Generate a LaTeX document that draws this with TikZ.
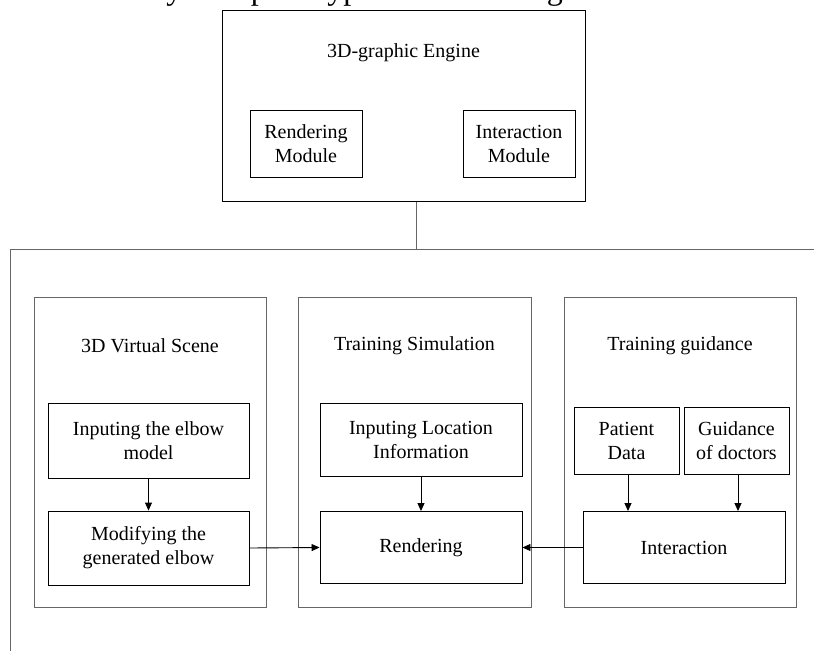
\documentclass[tikz,border=0pt]{standalone}
\usepackage{fontspec}
\setmainfont{Liberation Serif}
\usetikzlibrary{arrows.meta}
\begin{document}
\begin{tikzpicture}[x=1pt,y=-1pt,
  box/.style={draw=black,line width=0.9pt,align=center,inner sep=0pt,
    font=\fontsize{20}{24}\selectfont},
  panel/.style={draw=black!60,line width=1pt,inner sep=0pt},
  lbl/.style={font=\fontsize{20}{24}\selectfont,inner sep=0pt},
  link/.style={draw=black!60,line width=1pt},
  arr/.style={draw=black,line width=0.9pt,-{Triangle[length=8pt,width=7pt]}}]
\useasboundingbox (0,0) rectangle (814,651);
\begin{scope}
\clip (0,0) rectangle (814,651);
\node[anchor=south west,inner sep=0pt,font=\fontsize{32}{36}\selectfont] (caption) at (96,7) {The system prototype of the training};
\end{scope}
% top engine box
\node[panel,draw=black,minimum width=363pt,minimum height=191pt] (engine) at (403.5,105.5) {};
\node[lbl] (enginet) at (403.5,53) {3D-graphic Engine};
\node[box,minimum width=112pt,minimum height=67pt] (rmod) at (306,143.5) {Rendering\\Module};
\node[box,minimum width=112pt,minimum height=67pt] (imod) at (519,143.5) {Interaction\\Module};
% outer frame line
\coordinate (hub) at (416.5,249);
\coordinate (outerL) at (10,249);
\coordinate (outerR) at (814,249);
\coordinate (outerB) at (10,651);
\draw[link] (engine.south -| hub) -- (hub);
\draw[link] (outerR) -- (outerL) -- (outerB);
% panels
\node[panel,minimum width=232pt,minimum height=310pt] (p1) at (150,452) {};
\node[panel,minimum width=233pt,minimum height=310pt] (p2) at (414.5,452) {};
\node[panel,minimum width=232pt,minimum height=310pt] (p3) at (680,452) {};
\node[lbl] (t1) at (150,346) {3D Virtual Scene};
\node[lbl] (t2) at (414.5,346) {Training Simulation};
\node[lbl] (t3) at (680,346) {Training guidance};
% left panel
\node[box,minimum width=201pt,minimum height=75pt] (b1) at (148.5,440.5) {Inputing the elbow\\model};
\node[box,minimum width=201pt,minimum height=74pt] (b2) at (148.5,548) {Modifying the\\generated elbow};
% middle panel
\node[box,minimum width=202pt,minimum height=73pt] (b3) at (421,439.5) {Inputing Location\\Information};
\node[box,minimum width=202pt,minimum height=72pt] (b4) at (421,547.5) {Rendering};
% right panel
\node[box,minimum width=105pt,minimum height=67pt] (b5) at (626.5,440.5) {Patient\\Data};
\node[box,minimum width=105pt,minimum height=67pt] (b6) at (736.5,440.5) {Guidance\\of doctors};
\node[box,minimum width=202pt,minimum height=72pt] (b7) at (684,547.5) {Interaction};
% arrows
\draw[arr] (b1.south) -- (b2.north);
\draw[arr] (b3.south) -- (b4.north);
\draw[arr] (b5.south -| 628,0) -- (b7.north -| 628,0);
\draw[arr] (b6.south -| 738,0) -- (b7.north -| 738,0);
\draw[arr] (b2.east) -- (b4.west);
\draw[arr] (b7.west) -- (b4.east);
\end{tikzpicture}
\end{document}
